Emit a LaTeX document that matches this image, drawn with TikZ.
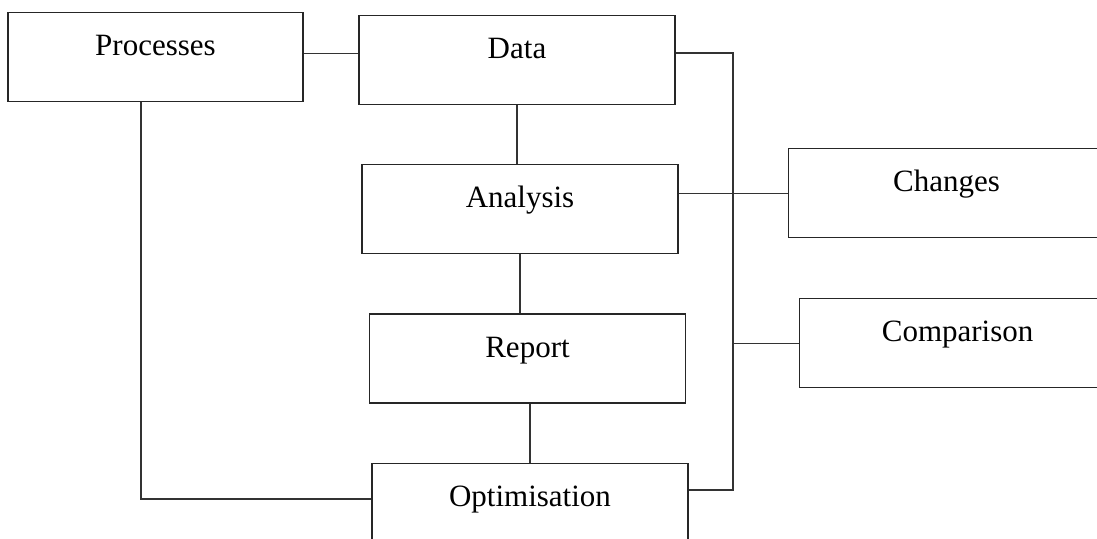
\documentclass[tikz,border=0pt]{standalone}
\usepackage{fontspec}
\setmainfont{Liberation Serif}
\usetikzlibrary{positioning}

\begin{document}
\begin{tikzpicture}[
  x=0.5pt, y=-0.5pt,
  node distance=29.5pt,
  box/.style={draw=black!85, line width=0.6pt, rectangle,
    minimum width=158pt, inner xsep=0pt, inner ysep=0pt,
    text height=21.5pt, text depth=23pt, font=\fontsize{15.5}{18}\selectfont},
  link/.style={draw=black!80, line width=0.6pt}
]
\useasboundingbox (0,0) rectangle (1097,538);
\clip (0,0) rectangle (1097,538);
\node[box, minimum width=147.5pt, anchor=north] (processes) at (155.5,12) {Processes};
\node[box, anchor=north] (data) at (517,15) {Data};
\node[box, below=of data, xshift=1.5pt] (analysis) {Analysis};
\node[box, below=of analysis, xshift=3.75pt] (report) {Report};
\node[box, below=of report, xshift=1.25pt] (optimisation) {Optimisation};
\node[box, anchor=north west] (changes) at (788,148) {Changes};
\node[box, anchor=north west] (comparison) at (799,298) {Comparison};
\coordinate (bus top) at (733,53);
\coordinate (bus bottom) at (733,490);
\coordinate (drop) at (141,499);
\draw[link] ([yshift=2pt]processes.east) -- ([yshift=2pt]processes.east -| data.west);
\draw[link] (data.south) -- (data.south |- analysis.north);
\draw[link] (analysis.south) -- (analysis.south |- report.north);
\draw[link] (report.south -| optimisation.north) -- (optimisation.north);
\draw[link] (changes.west -| analysis.east) -- (changes.west);
\draw[link] (data.east |- bus top) -- (bus top) -- (bus bottom) -- (optimisation.east |- bus bottom);
\draw[link] (comparison.west -| bus top) -- (comparison.west);
\draw[link] (processes.south -| drop) -- (drop) -- (optimisation.west |- drop);
\end{tikzpicture}
\end{document}
